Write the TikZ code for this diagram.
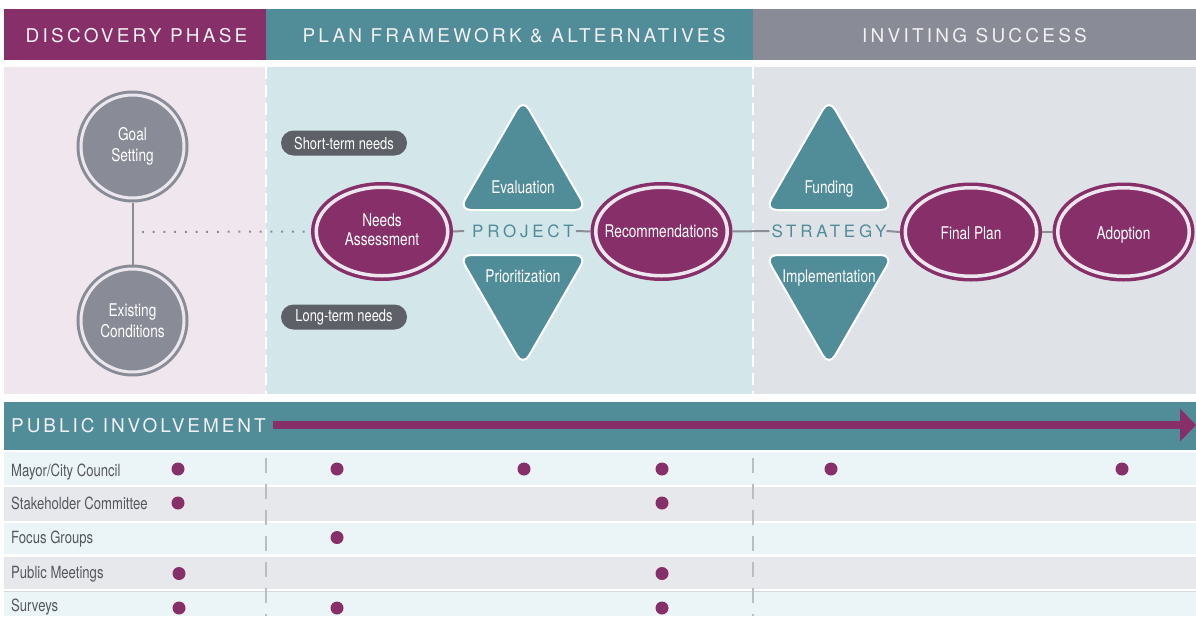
\documentclass[tikz,border=0pt]{standalone}
\usepackage{fontspec}
\setmainfont{TeX Gyre Heros}[FakeStretch=0.78]
\newfontfamily\hdrfont{TeX Gyre Heros}[LetterSpace=17]
\newfontfamily\pifont{TeX Gyre Heros}[LetterSpace=15.5]
\newfontfamily\trkfont{TeX Gyre Heros}[LetterSpace=22]
\usetikzlibrary{shapes.geometric,arrows.meta}
\definecolor{pur}{HTML}{862F69}
\definecolor{tealc}{HTML}{518C99}
\definecolor{hgray}{HTML}{898C96}
\definecolor{pinkbg}{HTML}{F0E6EE}
\definecolor{tealbg}{HTML}{D3E6EA}
\definecolor{graybg}{HTML}{DFE3E8}
\definecolor{pillc}{HTML}{5E6067}
\definecolor{rowa}{HTML}{EBF4F6}
\definecolor{rowb}{HTML}{E7E8EC}
\definecolor{conn}{HTML}{8A8D96}
\definecolor{ringgap}{HTML}{ECE7EE}
\definecolor{hdrtxt}{HTML}{F3F0F3}
\definecolor{lbltxt}{HTML}{55575E}
\definecolor{tdash}{HTML}{B8BDC6}
\begin{document}
\begin{tikzpicture}[x=1pt,y=-1pt,
  hdrtext/.style={font=\hdrfont\fontsize{19}{19}\selectfont, text=hdrtxt, inner sep=0pt},
  gcirc/.style={circle, fill=hgray, draw=hgray, line width=3pt, double=ringgap, double distance=3pt,
    minimum size=103pt, inner sep=0pt, outer sep=4.5pt, text=white, align=center, font=\fontsize{17.5}{21}\selectfont},
  pell/.style={ellipse, fill=pur, draw=pur, line width=3.5pt, double=ringgap, double distance=3.5pt,
    minimum width=131.5pt, minimum height=88.5pt, inner sep=0pt, outer sep=5.25pt},
  ntext/.style={text=white, align=center, font=\fontsize{17.5}{19}\selectfont, inner sep=0pt},
  pill/.style={fill=pillc, rounded corners=12.5pt, minimum width=126pt, minimum height=25pt, inner sep=0pt,
    text=white, font=\fontsize{16.5}{16.5}\selectfont},
  tri/.style={fill=tealc, draw=white, line width=2pt, rounded corners=12pt},
  trk/.style={font=\trkfont\fontsize{17}{17}\selectfont, text=tealc, inner sep=0pt},
  conline/.style={draw=conn, line width=2pt},
  dotline/.style={draw=conn, line width=2pt, dash pattern=on 2pt off 8.7pt},
  rowlbl/.style={anchor=base west, text=lbltxt, font=\fontsize{16.8}{16.8}\selectfont, inner sep=0pt},
  dot/.style={circle, fill=pur, minimum size=13pt, inner sep=0pt}
]
\useasboundingbox (0,0) rectangle (1196,616);
\fill[white] (0,0) rectangle (1196,616);
% header
\fill[pur] (4,9) rectangle (266,60);
\fill[tealc] (266,9) rectangle (753,60);
\fill[hgray] (753,9) rectangle (1196,60);
\node[hdrtext] (h1) at (136.5,35.5) {DISCOVERY PHASE};
\node[hdrtext] (h2) at (514,35.5) {PLAN FRAMEWORK \& ALTERNATIVES};
\node[hdrtext] (h3) at (974.5,35.5) {INVITING SUCCESS};
% panels
\fill[pinkbg] (4,67) rectangle (266,394);
\fill[tealbg] (266,67) rectangle (753,394);
\fill[graybg] (753,67) rectangle (1196,394);
\draw[white, line width=2pt, dash pattern=on 12pt off 6pt] (266,67) -- (266,394);
\draw[white, line width=2pt, dash pattern=on 12pt off 6pt] (753,67) -- (753,394);
% triangles
\path[tri] (523,99) -- (587,210) -- (459,210) -- cycle;
\path[tri] (459,255) -- (587,255) -- (523,366) -- cycle;
\path[tri] (829,99) -- (893,210) -- (765,210) -- cycle;
\path[tri] (765,255) -- (893,255) -- (829,366) -- cycle;
\node[ntext, anchor=base] (evalt) at (523,193.3) {Evaluation};
\node[ntext, anchor=base] (priot) at (523,282.5) {Prioritization};
\node[ntext, anchor=base] (fundt) at (829,193.3) {Funding};
\node[ntext, anchor=base] (implt) at (829,282.5) {Implementation};
% circles
\node[gcirc] (goal) at (132.5,146.5) {Goal\\Setting};
\node[gcirc] (exist) at (132.5,320.5) {Existing\\Conditions};
% ellipses
\node[pell] (needs) at (382,231.5) {};
\node[ntext] (needst) at (382,230) {Needs\\Assessment};
\node[pell] (rec) at (661.5,231.5) {};
\node[ntext, anchor=base] (rect) at (661.5,237.3) {Recommendations};
\node[pell] (final) at (971,232) {};
\node[ntext, anchor=base] (finalt) at (971,239) {Final Plan};
\node[pell] (adopt) at (1123.5,232) {};
\node[ntext, anchor=base] (adoptt) at (1123.5,239) {Adoption};
% pills
\node[pill] (short) at (344,143) {Short-term needs};
\node[pill] (long) at (344,317) {Long-term needs};
% tracked labels
\node[trk] (proj) at (523,231) {PROJECT};
\node[trk] (strat) at (829,231) {STRATEGY};
% connectors
\draw[conline] (goal) -- (exist);
\coordinate (dstart) at (142,232);
\draw[dotline] (dstart) -- ([xshift=-6pt]needs.west);
\draw[conline] (needs.east) -- ([xshift=-8pt]proj.west);
\draw[conline] ([xshift=2pt]proj.east) -- (rec.west);
\draw[conline] (rec.east) -- ([xshift=-2pt]strat.west);
\draw[conline] (strat.east) -- (final.west);
\draw[conline] (final.east) -- (adopt.west);
% public involvement band
\fill[tealc] (4,402) rectangle (1196,450);
\node[anchor=west, font=\pifont\fontsize{19}{19}\selectfont, text=hdrtxt, inner sep=0pt] (pi) at (11,425.5) {PUBLIC INVOLVEMENT};
\coordinate (astart) at (273,425);
\coordinate (aend) at (1196,425);
\draw[pur, line width=8pt, -{Triangle[length=16pt, width=32pt]}] (astart) -- (aend);
% table rows
\fill[rowa] (4,452) rectangle (1196,485);
\fill[rowb] (4,487) rectangle (1196,521);
\fill[rowa] (4,523) rectangle (1196,554);
\fill[rowb] (4,557) rectangle (1196,589);
\fill[rowa] (4,591) rectangle (1196,616);
\draw[draw=tdash!60, line width=1pt] (4,591.5) -- (1196,591.5);
\draw[tdash, line width=1.5pt, dash pattern=on 15pt off 11pt] (266,458) -- (266,616);
\draw[tdash, line width=1.5pt, dash pattern=on 15pt off 11pt] (753,458) -- (753,616);
\node[rowlbl] (l1) at (11,476) {Mayor/City Council};
\node[rowlbl] (l2) at (11,509.5) {Stakeholder Committee};
\node[rowlbl] (l3) at (11,543.5) {Focus Groups};
\node[rowlbl] (l4) at (11,578.5) {Public Meetings};
\node[rowlbl] (l5) at (11,611) {Surveys};
\foreach \xx [count=\c] in {178,337,524,662,831,1122} \node[dot] (ra\c) at (\xx,469) {};
\foreach \xx [count=\c] in {178,662} \node[dot] (rb\c) at (\xx,503) {};
\foreach \xx [count=\c] in {337} \node[dot] (rc\c) at (\xx,537.5) {};
\foreach \xx [count=\c] in {179,662} \node[dot] (rd\c) at (\xx,573.5) {};
\foreach \xx [count=\c] in {179,337,662} \node[dot] (re\c) at (\xx,608) {};
\end{tikzpicture}
\end{document}
